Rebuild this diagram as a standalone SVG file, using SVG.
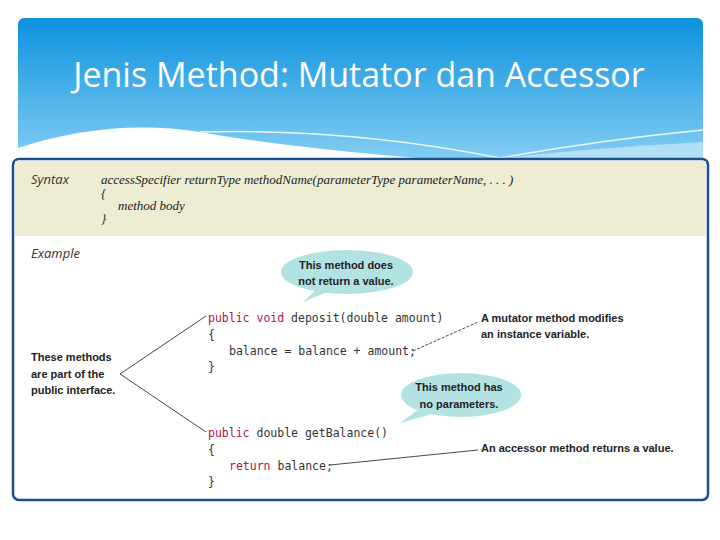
<svg xmlns="http://www.w3.org/2000/svg" width="720" height="540" viewBox="0 0 720 540">
<defs>
<linearGradient id="hg" x1="0" y1="0" x2="0" y2="1"><stop offset="0" stop-color="#0c92de"/><stop offset="1" stop-color="#8ad0f4"/></linearGradient>
<style>
.code{font-family:"DejaVu Sans Mono",monospace;font-size:11.5px;fill:#333}
.kw{fill:#b0124e}
.note{font-family:"Liberation Sans",sans-serif;font-size:11px;font-weight:bold;fill:#222}
.it{font-family:"Liberation Serif",serif;font-style:italic;font-size:13px;fill:#222}
.lbl{font-family:"Open Sans",sans-serif;font-style:italic;font-size:13px;fill:#333}
.ln{stroke:#333;stroke-width:0.9;fill:none}
.bub{fill:#b2e2e2}
</style>
</defs>
<rect width="720" height="540" fill="#fff"/>
<g id="header">
<rect x="18" y="18" width="685" height="150" rx="6" fill="url(#hg)"/>
<path d="M18 148 Q110 118 200 132 Q300 150 470 162 L18 162 Z" fill="#fff"/>
<path d="M200 132 Q350 128 500 158 Q600 140 703 130" stroke="#e8f6fd" stroke-width="1.5" fill="none"/>
<path d="M470 162 Q560 150 703 142 L703 162 Z" fill="#d6eefa" opacity="0.6"/>
<text x="359" y="87" text-anchor="middle" font-family="Open Sans, sans-serif" font-size="34" fill="#fff">Jenis Method: Mutator dan Accessor</text>
</g>
<g id="box">
<rect x="13" y="159" width="695" height="341" rx="6" fill="#fff" stroke="#1b4f8a" stroke-width="2.5"/>
<rect x="15" y="161" width="691" height="75" fill="#eeecd2"/>
<text x="31" y="184" class="lbl">Syntax</text>
<text x="101" y="184" class="it">accessSpecifier  returnType  methodName(parameterType  parameterName, . . . )</text>
<text x="101" y="198" class="it">{</text>
<text x="118" y="210" class="it">method body</text>
<text x="101" y="223" class="it">}</text>
<text x="31" y="258" class="lbl">Example</text>
</g>
<g id="bubble1">
<path d="M318 288 L303 302 L332 290 Z" class="bub"/>
<ellipse cx="347" cy="272" rx="66" ry="22" class="bub"/>
<text x="346" y="269" text-anchor="middle" class="note">This method does</text>
<text x="346" y="285" text-anchor="middle" class="note">not return a value.</text>
</g>
<g id="bubble2">
<path d="M418 410 L400 423 L432 414 Z" class="bub"/>
<ellipse cx="461" cy="395" rx="60" ry="22" class="bub"/>
<text x="459" y="391" text-anchor="middle" class="note">This method has</text>
<text x="459" y="408" text-anchor="middle" class="note">no parameters.</text>
</g>
<g id="code">
<text x="208" y="322" class="code"><tspan class="kw">public void</tspan> deposit(double amount)</text>
<text x="208" y="339" class="code">{</text>
<text x="229" y="355" class="code">balance = balance + amount;</text>
<text x="208" y="371" class="code">}</text>
<text x="208" y="437" class="code"><tspan class="kw">public</tspan> double getBalance()</text>
<text x="208" y="454" class="code">{</text>
<text x="229" y="470" class="code"><tspan class="kw">return</tspan> balance;</text>
<text x="208" y="486" class="code">}</text>
</g>
<g id="notes">
<text x="31" y="361" class="note">These methods</text>
<text x="31" y="378" class="note">are part of the</text>
<text x="31" y="394" class="note">public interface.</text>
<text x="481" y="322" class="note">A mutator method modifies</text>
<text x="481" y="338" class="note">an instance variable.</text>
<text x="481" y="452" class="note">An accessor method returns a value.</text>
</g>
<g id="connectors">
<path class="ln" d="M206 316 L120 374 L206 432"/>
<path class="ln" d="M413 351 L478 322" stroke-dasharray="3,1.5"/>
<path class="ln" d="M330 465 L478 450"/>
</g>
</svg>
